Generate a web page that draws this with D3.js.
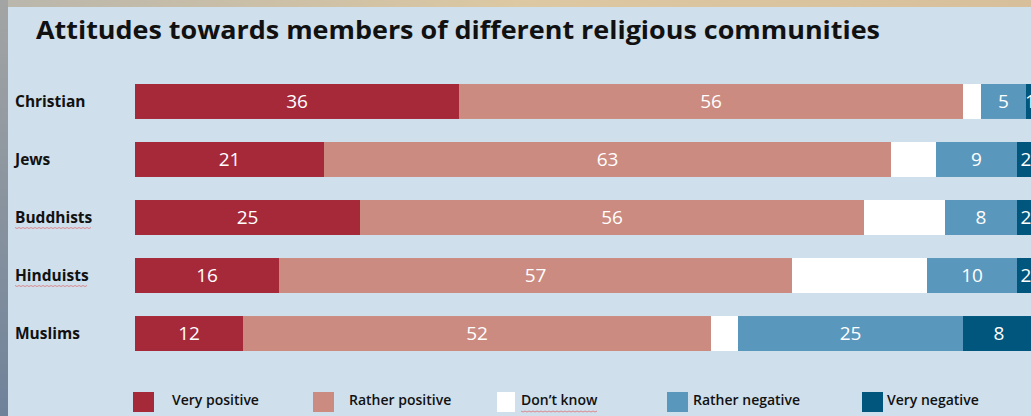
<!DOCTYPE html>
<html>
<head>
<meta charset="utf-8">
<script src="https://cdn.jsdelivr.net/npm/d3@7"></script>
<style>
  html, body { margin: 0; padding: 0; overflow: hidden; }
  body { width: 1031px; height: 416px; }
  text { font-family: "Open Sans", "DejaVu Sans", sans-serif; }
</style>
</head>
<body>
<div class="chart"></div>
<script>
const title = "Attitudes towards members of different religious communities";
const categories = ["Christian", "Jews", "Buddhists", "Hinduists", "Muslims"];
const seriesNames = ["Very positive", "Rather positive", "Don\u2019t know", "Rather negative", "Very negative"];
const veryPositive = [36, 21, 25, 16, 12];
const ratherPositive = [56, 63, 56, 57, 52];
const dontKnow = [2, 5, 9, 15, 3];
const ratherNegative = [5, 9, 8, 10, 25];
const veryNegative = [1, 2, 2, 2, 8];

const colors = ["#a52939", "#cc8b80", "#ffffff", "#5a97bc", "#01567e"];
const showLabel = [true, true, false, true, true];
// spell-check squiggles seen in the screenshot
const squiggled = ["Buddhists", "Hinduists"];

const width = 1031, height = 416;

const svg = d3.select(".chart").append("svg")
  .attr("width", width)
  .attr("height", height);

// slide background
const defs = svg.append("defs");
const topGrad = defs.append("linearGradient").attr("id", "topg");
topGrad.append("stop").attr("offset", "0%").attr("stop-color", "#b9b6ac");
topGrad.append("stop").attr("offset", "50%").attr("stop-color", "#dcc8a2");
topGrad.append("stop").attr("offset", "100%").attr("stop-color", "#d8bf9c");
const leftGrad = defs.append("linearGradient").attr("id", "leftg")
  .attr("x1", 0).attr("y1", 0).attr("x2", 0).attr("y2", 1);
leftGrad.append("stop").attr("offset", "0%").attr("stop-color", "#a3a5a4");
leftGrad.append("stop").attr("offset", "100%").attr("stop-color", "#6f829a");

svg.append("rect").attr("width", width).attr("height", height).attr("fill", "#cfdfeb");
svg.append("rect").attr("width", width).attr("height", 7).attr("fill", "url(#topg)");
svg.append("rect").attr("width", 8).attr("height", height).attr("fill", "url(#leftg)");

svg.append("text")
  .attr("x", 36).attr("y", 39)
  .attr("font-size", 25).attr("font-weight", 700).attr("fill", "#111")
  .attr("textLength", 844).attr("lengthAdjust", "spacingAndGlyphs")
  .text(title);

const x = d3.scaleLinear().domain([0, 100]).range([135, 1035]);
const y = d3.scaleBand().domain(categories).range([84, 351]).paddingInner(0.397).paddingOuter(0);

const rows = categories.map((c, i) => ({
  name: c,
  values: [veryPositive[i], ratherPositive[i], dontKnow[i], ratherNegative[i], veryNegative[i]]
}));
const stack = d3.stack().keys(d3.range(5)).value((d, k) => d.values[k]);
const layers = stack(rows);

const g = svg.append("g");
layers.forEach((layer, k) => {
  const lg = g.append("g");
  lg.selectAll("rect").data(layer).enter().append("rect")
    .attr("x", d => x(d[0]))
    .attr("y", d => y(d.data.name))
    .attr("width", d => x(d[1]) - x(d[0]))
    .attr("height", y.bandwidth())
    .attr("fill", colors[k]);
  if (showLabel[k]) {
    lg.selectAll("text").data(layer).enter().append("text")
      .attr("x", d => (x(d[0]) + x(d[1])) / 2)
      .attr("y", d => y(d.data.name) + y.bandwidth() / 2)
      .attr("dy", "0.36em")
      .attr("text-anchor", "middle")
      .attr("font-size", 19)
      .attr("fill", "#fff")
      .text(d => d[1] - d[0]);
  }
});

// category labels
const yAxis = svg.append("g");
categories.forEach(c => {
  const t = yAxis.append("text")
    .attr("x", 15)
    .attr("y", y(c) + y.bandwidth() / 2)
    .attr("dy", "0.36em")
    .attr("font-size", 15.5).attr("font-weight", 700).attr("fill", "#111")
    .text(c);
  if (squiggled.includes(c)) {
    const w = t.node().getComputedTextLength();
    squiggle(15, y(c) + y.bandwidth() / 2 + 10, w);
  }
});

function squiggle(x0, y0, w) {
  const pts = d3.range(0, w, 2).map((d, i) => [x0 + d, y0 + (i % 2 ? 1 : 0)]);
  svg.append("path").attr("d", d3.line()(pts))
    .attr("fill", "none").attr("stroke", "#e05a5a").attr("stroke-width", 0.8).attr("opacity", 0.8);
}

// legend
const legendX = [133, 313, 497, 667, 862];
const legendTextOffset = [39, 36, 24, 26, 25];
const legend = svg.append("g");
seriesNames.forEach((s, k) => {
  legend.append("rect")
    .attr("x", legendX[k]).attr("y", 392)
    .attr("width", k === 2 ? 18 : 21).attr("height", 20)
    .attr("fill", colors[k]);
  const t = legend.append("text")
    .attr("x", legendX[k] + legendTextOffset[k]).attr("y", 400)
    .attr("dy", "0.36em")
    .attr("font-size", 14).attr("font-weight", 600).attr("fill", "#111")
    .text(s);
  if (k === 2) {
    squiggle(legendX[k] + legendTextOffset[k], 411, t.node().getComputedTextLength());
  }
});
</script>
</body>
</html>
